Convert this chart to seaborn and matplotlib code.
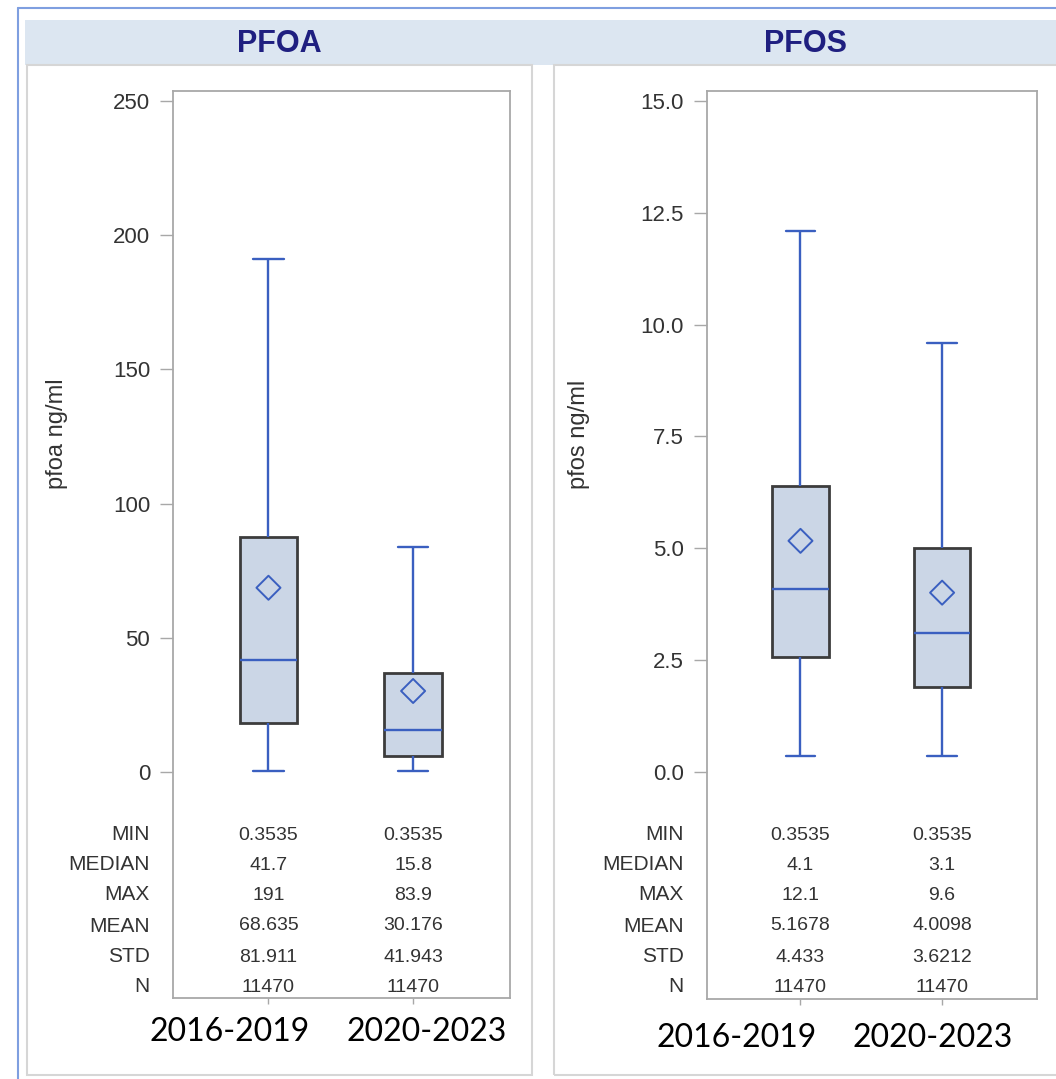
import numpy as np
import pandas as pd
import matplotlib
matplotlib.use("Agg")
import matplotlib.pyplot as plt
from matplotlib.patches import Rectangle
from matplotlib.lines import Line2D
import seaborn as sns

# ---- data ----
periods = ["2016-2019", "2020-2023"]
stat_names = ["MIN", "MEDIAN", "MAX", "MEAN", "STD", "N"]

pfoa_min = [0.3535, 0.3535]
pfoa_q1 = [18.1, 6.0]
pfoa_median = [41.7, 15.8]
pfoa_q3 = [87.7, 37.0]
pfoa_max = [191, 83.9]
pfoa_mean = [68.635, 30.176]
pfoa_table = [["0.3535", "0.3535"], ["41.7", "15.8"], ["191", "83.9"],
              ["68.635", "30.176"], ["81.911", "41.943"], ["11470", "11470"]]

pfos_min = [0.3535, 0.3535]
pfos_q1 = [2.58, 1.9]
pfos_median = [4.1, 3.1]
pfos_q3 = [6.4, 5.0]
pfos_max = [12.1, 9.6]
pfos_mean = [5.1678, 4.0098]
pfos_table = [["0.3535", "0.3535"], ["4.1", "3.1"], ["12.1", "9.6"],
              ["5.1678", "4.0098"], ["4.433", "3.6212"], ["11470", "11470"]]

pfoa_ticks = [0, 50, 100, 150, 200, 250]
pfos_ticks = [0.0, 2.5, 5.0, 7.5, 10.0, 12.5, 15.0]

W, H = 1056, 1079
BLUE = "#3a5fc0"
FILL = "#cbd6e6"
EDGE = "#3c3c3c"
SPINE = "#a8a8a8"
TXT = "#333333"


def fx(px):
    return px / W


def fy(py):
    return 1 - py / H


def five_num(mins, q1, med, q3, maxs):
    # five-number summary per period; with whis=(0, 100) seaborn reproduces it exactly
    rows = []
    for i, p in enumerate(periods):
        for v in (mins[i], q1[i], med[i], q3[i], maxs[i]):
            rows.append({"period": p, "value": v})
    return pd.DataFrame(rows)


sns.set_theme(style="white")
plt.rcParams["font.family"] = ["Liberation Sans", "DejaVu Sans"]

fig = plt.figure(figsize=(W / 100, H / 100), dpi=100)

# frame decorations
fig.add_artist(Rectangle((fx(25), fy(65)), fx(1056) - fx(25), fy(20) - fy(65),
                         transform=fig.transFigure, facecolor="#dce6f1", edgecolor="none"))
fig.add_artist(Line2D([fx(18), fx(18)], [fy(8), 0], transform=fig.transFigure, color="#7f9fe0", lw=1.5))
fig.add_artist(Line2D([fx(18), 1], [fy(8), fy(8)], transform=fig.transFigure, color="#7f9fe0", lw=1.5))
for x0, x1 in [(27, 532), (554, 1070)]:
    fig.add_artist(Rectangle((fx(x0), fy(1075)), fx(x1) - fx(x0), fy(65) - fy(1075),
                             transform=fig.transFigure, facecolor="none", edgecolor="#d6d6d6", lw=1.5))

panels = [
    dict(title="PFOA", ylabel="pfoa ng/ml", box=(173, 91, 510, 998), ylim=(-84.2, 253.7),
         ticks=pfoa_ticks, fmt="{:.0f}", data=five_num(pfoa_min, pfoa_q1, pfoa_median, pfoa_q3, pfoa_max),
         mean=pfoa_mean, table=pfoa_table, tcx=279, lab_x=68, cat_x=[230, 427], cat_y=1032),
    dict(title="PFOS", ylabel="pfos ng/ml", box=(707, 91, 1037, 999), ylim=(-5.07, 15.22),
         ticks=pfos_ticks, fmt="{:.1f}", data=five_num(pfos_min, pfos_q1, pfos_median, pfos_q3, pfos_max),
         mean=pfos_mean, table=pfos_table, tcx=805, lab_x=590, cat_x=[737, 933], cat_y=1038),
]

for p in panels:
    x0, y0, x1, y1 = p["box"]
    ax = fig.add_axes([fx(x0), fy(y1), fx(x1) - fx(x0), fy(y0) - fy(y1)])

    sns.boxplot(data=p["data"], x="period", y="value", order=periods, ax=ax,
                color=FILL, saturation=1, width=0.4, whis=(0, 100), linewidth=1.6,
                capwidths=0.21,
                boxprops=dict(facecolor=FILL, edgecolor=EDGE, linewidth=2.0),
                medianprops=dict(color=BLUE, linewidth=1.7),
                whiskerprops=dict(color=BLUE, linewidth=1.7),
                capprops=dict(color=BLUE, linewidth=1.7))
    sns.scatterplot(x=periods, y=p["mean"], ax=ax, marker="D", s=150,
                    facecolor="none", edgecolor=BLUE, linewidth=1.4, zorder=5)

    ax.set_xlim(-0.66, 1.67)
    ax.set_ylim(*p["ylim"])
    ax.set_yticks(p["ticks"])
    ax.set_yticklabels([p["fmt"].format(t) for t in p["ticks"]])
    ax.set_xticks([0, 1])
    ax.set_xticklabels([])
    ax.set_xlabel("")
    ax.set_ylabel(p["ylabel"], fontsize=17, color=TXT)
    ax.yaxis.set_label_coords((p["lab_x"] - x0) / (x1 - x0), (y1 - 434) / (y1 - y0))
    ax.tick_params(axis="y", left=True, length=9.5, width=1.0, color=SPINE, pad=7,
                   labelsize=16, labelcolor=TXT)
    ax.tick_params(axis="x", bottom=True, length=4, width=1.0, color=SPINE)
    for s in ax.spines.values():
        s.set_color(SPINE)
        s.set_linewidth(1.3)

    # statistics table inside the plot area
    trans = ax.get_xaxis_transform()
    row_y = [835, 865, 895, 926, 957, 987]
    for name, vals, ry in zip(stat_names, p["table"], row_y):
        yf = (y1 - ry) / (y1 - y0)
        ax.text(-23 / (x1 - x0), yf, name, transform=ax.transAxes,
                ha="right", va="center", fontsize=15, color=TXT)
        for i, v in enumerate(vals):
            ax.text(i, yf, v, transform=trans, ha="center", va="center",
                    fontsize=14, color=TXT)

    fig.text(fx(p["tcx"]), fy(44), p["title"], ha="center", va="center",
             fontsize=22, fontweight="bold", color="#1f1f80")
    for cx, lab in zip(p["cat_x"], periods):
        fig.text(fx(cx), fy(p["cat_y"]), lab, ha="center", va="center",
                 fontsize=23, color="black", family=["Lato", "DejaVu Sans"])

fig.savefig("out.png", dpi=100)
